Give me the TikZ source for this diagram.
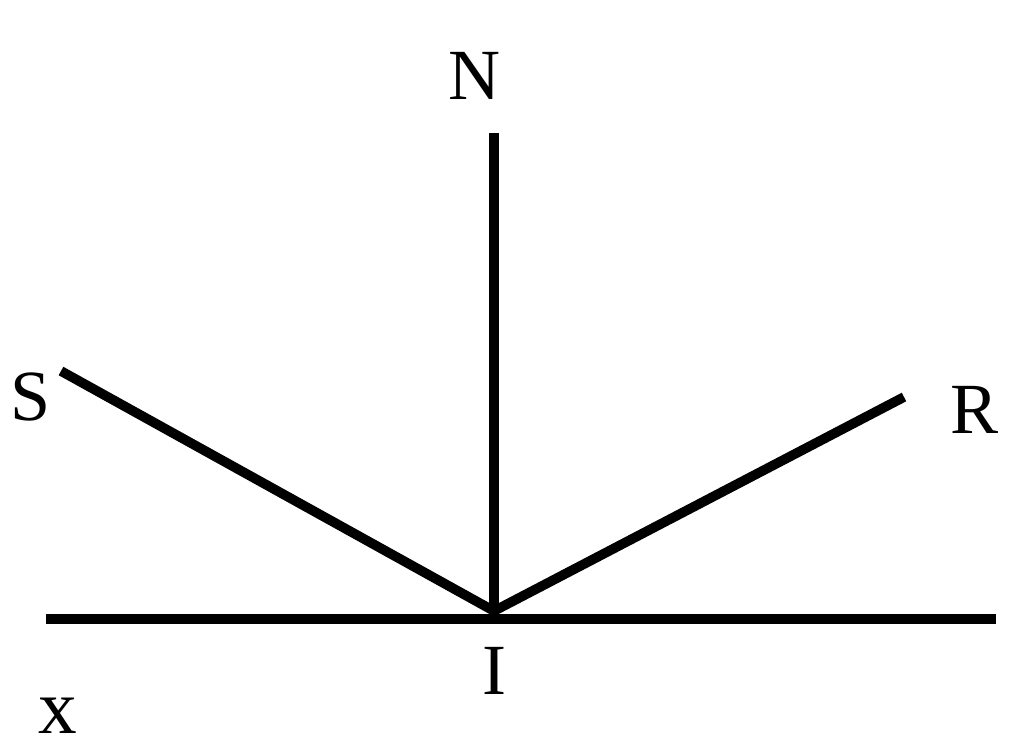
\documentclass[tikz,border=0pt]{standalone}
\usepackage{fontspec}
\setmainfont{Liberation Serif}
\begin{document}
\begin{tikzpicture}[x=0.02cm,y=-0.02cm,
  ray/.style={line width=5.5pt,line cap=butt,line join=round},
  lbl/.style={inner sep=0pt,font=\fontsize{41}{48}\selectfont}]
\useasboundingbox (0,0) rectangle (1024,755);
\coordinate (I0) at (494,611);
\coordinate (L) at (46,619);
\coordinate (Rt) at (996,619);
\coordinate (Ntop) at (494,133);
\coordinate (Send) at (61,371);
\coordinate (Rend) at (904,397);
\draw[ray] (L) -- (Rt);
\draw[ray] (Ntop) -- (I0);
\draw[ray] (Send) -- (I0) -- (Rend);
\node[lbl] (N) at (475,76) {N};
\node[lbl] (S) at (31,397) {S};
\node[lbl] (R) at (975,410) {R};
\node[lbl] (I) at (494,671) {I};
\node[lbl,font=\fontsize{44}{50}\selectfont] (x) at (58,716) {x};
\end{tikzpicture}
\end{document}
